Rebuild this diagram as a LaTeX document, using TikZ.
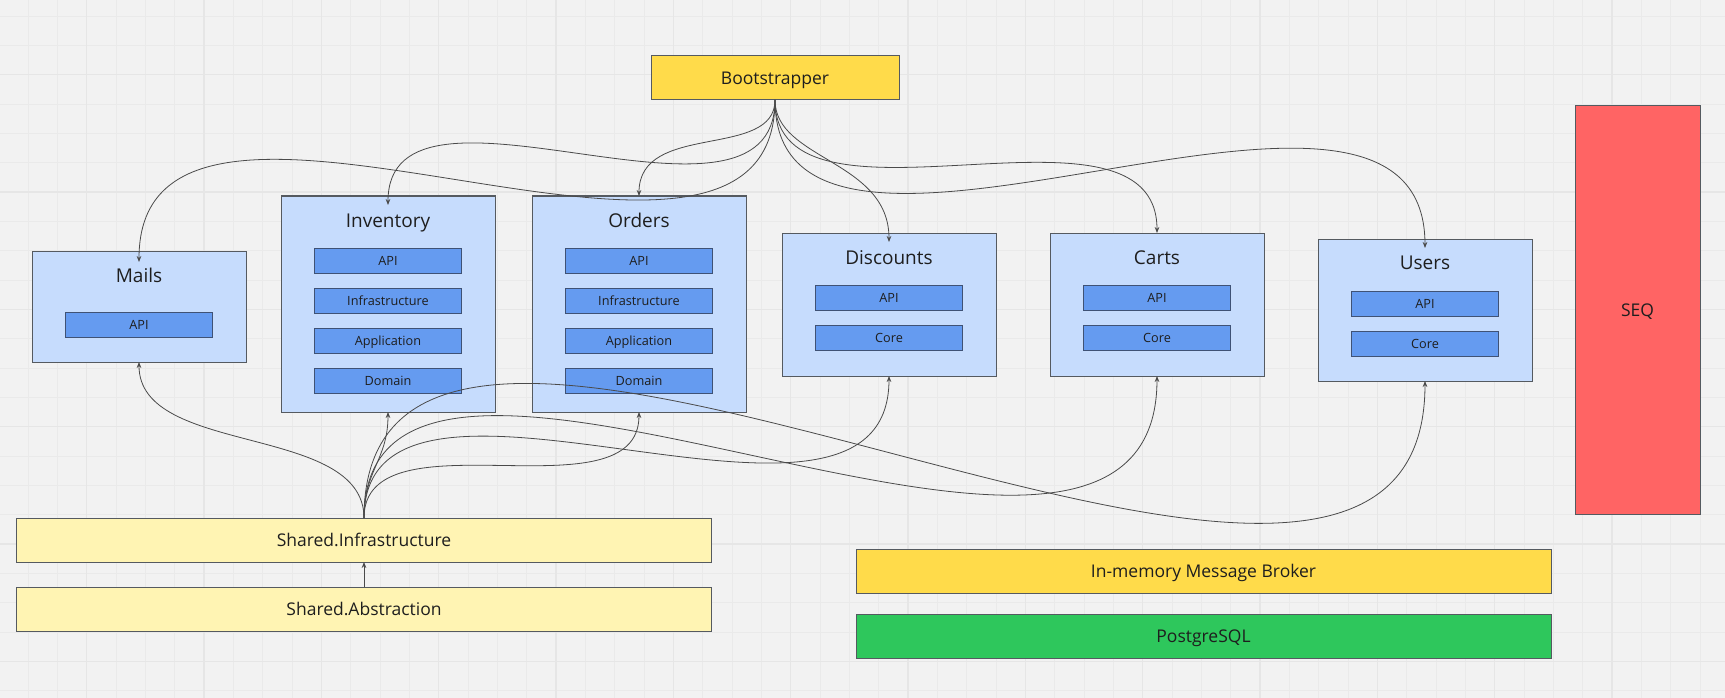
\documentclass[tikz,border=0pt]{standalone}
\usepackage{fontspec}
\setmainfont{Open Sans}
\usetikzlibrary{arrows.meta}
\definecolor{bg}{HTML}{F2F2F2}
\definecolor{gridminor}{HTML}{EAEAEA}
\definecolor{gridmajor}{HTML}{E6E6E6}
\definecolor{modblue}{HTML}{C6DCFD}
\definecolor{layerblue}{HTML}{659BF0}
\definecolor{layeredge}{HTML}{3F5275}
\definecolor{edgegray}{HTML}{555A60}
\definecolor{bootyellow}{HTML}{FFDB4A}
\definecolor{paleyellow}{HTML}{FFF4B3}
\definecolor{seqred}{HTML}{FF6464}
\definecolor{pggreen}{HTML}{2EC75C}
\definecolor{linkgray}{HTML}{4A4A4A}
\definecolor{txt}{HTML}{1E1E1E}
\tikzset{
  every node/.style={inner sep=0pt, outer sep=0pt},
  box/.style={draw=edgegray, line width=1pt, rectangle},
  module/.style={box, fill=modblue, minimum width=214pt},
  layer/.style={box, draw=layeredge, fill=layerblue, minimum width=147pt, minimum height=25pt,
    font=\fontsize{12.7}{14}\selectfont, text height=9.1pt, text depth=0pt, text=txt},
  modtitle/.style={font=\fontsize{19}{22}\selectfont, anchor=base, text=txt},
  bar/.style={box, minimum height=44pt, font=\fontsize{17.5}{20}\selectfont,
    text height=12.5pt, text depth=0pt, text=txt},
  link/.style={draw=linkgray, line width=0.8pt, -{Stealth[length=6pt,width=4.6pt]}},
  minorline/.style={draw=gridminor, line width=0.8pt},
  majorline/.style={draw=gridmajor, line width=1.5pt},
}
\begin{document}
\begin{tikzpicture}[x=1pt,y=-1pt]
\useasboundingbox (0,0) rectangle (1725,698);
\fill[bg] (0,0) rectangle (1725,698);
% board grid
\foreach \i in {0,...,59} \draw[minorline] ({-1.3333+29.3333*\i},0) -- ++(0,698);
\foreach \j in {0,...,24} \draw[minorline] (0,{-13.3333+29.3333*\j}) -- ++(1725,0);
\foreach \k in {0,...,14} \draw[majorline] ({86.6667+117.3333*\k},0) -- ++(0,698);
\foreach \k in {0,...,5} \draw[majorline] (0,{74.6667+117.3333*\k}) -- ++(1725,0);

% top bar
\node[bar, fill=bootyellow, minimum width=248pt] (boot) at (775,78) {Bootstrapper};

% Mails
\node[module, minimum height=111pt] (mails) at (139,306.5) {};
\node[modtitle] (mailsT) at (139,282) {Mails};
\node[layer] (mailsApi) at (139,325) {API};

% Inventory
\node[module, minimum height=216pt] (inv) at (388,304) {};
\node[modtitle] (invT) at (388,227) {Inventory};
\node[layer] (invApi) at (388,260.5) {API};
\node[layer] (invInf) at (388,300.5) {Infrastructure};
\node[layer] (invApp) at (388,340.5) {Application};
\node[layer] (invDom) at (388,380.5) {Domain};

% Orders
\node[module, minimum height=216pt] (ord) at (639,304) {};
\node[modtitle] (ordT) at (639,227) {Orders};
\node[layer] (ordApi) at (639,260.5) {API};
\node[layer] (ordInf) at (639,300.5) {Infrastructure};
\node[layer] (ordApp) at (639,340.5) {Application};
\node[layer] (ordDom) at (639,380.5) {Domain};

% Discounts
\node[module, minimum height=143pt] (disc) at (889,304.5) {};
\node[modtitle] (discT) at (889,264) {Discounts};
\node[layer] (discApi) at (889,298) {API};
\node[layer] (discCore) at (889,338) {Core};

% Carts
\node[module, minimum height=143pt] (carts) at (1157,304.5) {};
\node[modtitle] (cartsT) at (1157,264) {Carts};
\node[layer] (cartsApi) at (1157,298) {API};
\node[layer] (cartsCore) at (1157,338) {Core};

% Users
\node[module, minimum height=142pt] (users) at (1425,310) {};
\node[modtitle] (usersT) at (1425,269) {Users};
\node[layer] (usersApi) at (1425,303.5) {API};
\node[layer] (usersCore) at (1425,343.5) {Core};

% SEQ
\node[bar, fill=seqred, minimum width=125pt, minimum height=408pt] (seq) at (1637.5,310) {SEQ};

% shared
\node[bar, fill=paleyellow, minimum width=695pt] (sinf) at (364,540) {Shared.Infrastructure};
\node[bar, fill=paleyellow, minimum width=695pt] (sabs) at (364,609) {Shared.Abstraction};

% infrastructure
\node[bar, fill=bootyellow, minimum width=695pt] (broker) at (1203.5,571) {In-memory Message Broker};
\node[bar, fill=pggreen, minimum width=695pt] (pg) at (1203.5,636) {PostgreSQL};

% Bootstrapper references
\draw[link] (boot.south) .. controls +(0,60) and +(0,-75) .. (ord.north);
\draw[link] (boot.south) .. controls +(0,160) and +(0,-155) .. ([yshift=-9pt]inv.north);
\draw[link] (boot.south) .. controls +(0,260) and +(0,-262) .. ([yshift=-11pt]mails.north);
\draw[link] (boot.south) .. controls +(0,60) and +(0,-82) .. ([yshift=-9pt]disc.north);
\draw[link] (boot.south) .. controls +(0,150) and +(0,-153) .. (carts.north);
\draw[link] (boot.south) .. controls +(0,250) and +(0,-258) .. ([yshift=-9pt]users.north);

% Shared.Infrastructure references
\draw[link] (sinf.north) .. controls +(0,-95) and +(0,95) .. (mails.south);
\draw[link] (sinf.north) .. controls +(0,-48) and +(0,48) .. (inv.south);
\draw[link] (sinf.north) .. controls +(0,-108) and +(0,108) .. (ord.south);
\draw[link] (sinf.north) .. controls +(0,-208) and +(0,214) .. (disc.south);
\draw[link] (sinf.north) .. controls +(0,-298) and +(0,324) .. (carts.south);
\draw[link] (sinf.north) .. controls +(0,-408) and +(0,419) .. (users.south);

\draw[link] (sabs.north) -- (sinf.south);
\end{tikzpicture}
\end{document}
